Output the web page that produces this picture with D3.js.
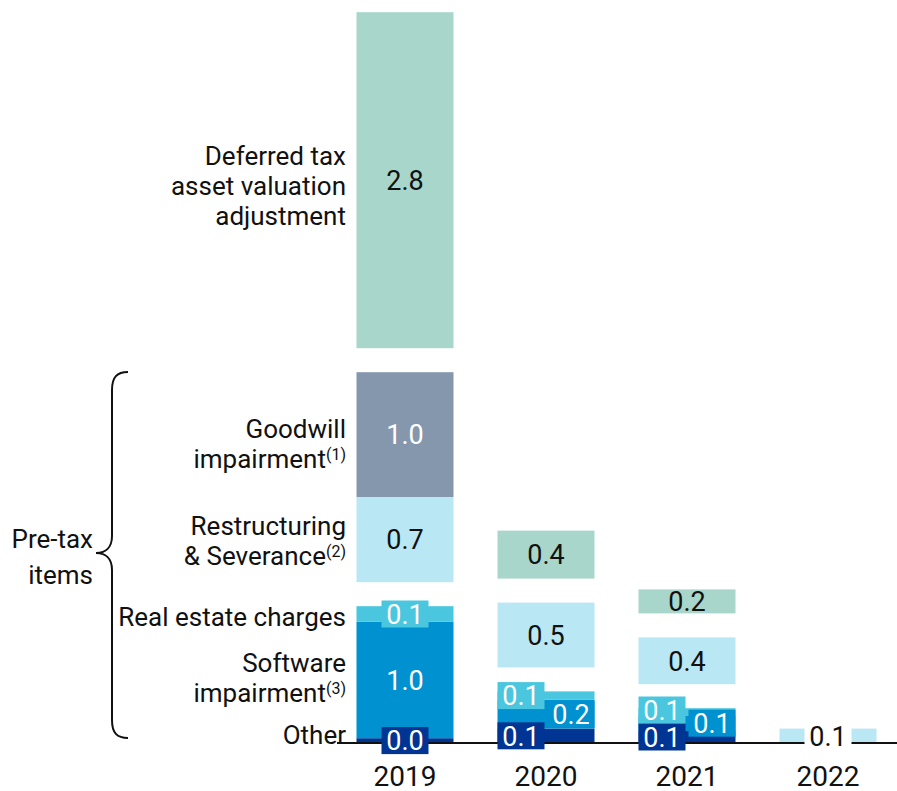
<!DOCTYPE html>
<html>
<head>
<meta charset="utf-8">
<script src="https://cdn.jsdelivr.net/npm/d3@7"></script>
<style>
  body { margin: 0; background: #fff; }
  svg text { font-family: Roboto, "Noto Sans", sans-serif; fill: #111; }
</style>
</head>
<body>
<div><svg width="897" height="791"></svg></div>
<script>
// values (rounded labels shown with 1 decimal)
let years = ["2019", "2020", "2021", "2022"];
let seriesKeys = ["other", "software", "realEstate", "restructuring", "goodwill", "deferredTax"];
let other = [0.04, 0.12, 0.10, 0];
let software = [0.97, 0.24, 0.13, 0];
let realEstate = [0.13, 0.07, 0.06, 0];
let restructuring = [0.71, 0.54, 0.39, 0.12];
let goodwill = [1.04, 0, 0, 0];
let deferredTax = [2.8, 0.4, 0.2, 0];
// groups get a gap between them: pre-tax (other/software/real estate), pre-tax (restructuring/goodwill), tax
let groups = [0, 0, 0, 1, 1, 2];
let categoryLabels = [
    [["Other"]],
    [["Software"], ["impairment", "(3)"]],
    [["Real estate charges"]],
    [["Restructuring"], ["& Severance", "(2)"]],
    [["Goodwill"], ["impairment", "(1)"]],
    [["Deferred tax"], ["asset valuation"], ["adjustment"]]
];

let values = { other: other, software: software, realEstate: realEstate,
    restructuring: restructuring, goodwill: goodwill, deferredTax: deferredTax };
let colors = { other: "#003594", software: "#0091d0", realEstate: "#4ac6df",
    restructuring: "#b9e7f3", goodwill: "#8497ad", deferredTax: "#a8d6cb" };
let darkSeries = { other: true, software: true, goodwill: true, realEstate: true };

let baseline = 743, gap = 24;
let svg = d3.select("svg");

let xdim = d3.scaleBand().domain(years).range([334.5, 898.5])
    .paddingInner(0.312).paddingOuter(0.156);
let ydim = d3.scaleLinear().domain([0, 6]).range([baseline, baseline - 720]);
let unit = function(v) { return ydim(0) - ydim(v); };

// build stacked segments with gaps between groups
let segments = [];
years.forEach(function(yr, i) {
    let top = baseline;
    let lastGroup = null;
    seriesKeys.forEach(function(k, j) {
        let v = values[k][i];
        if (v <= 0) return;
        if (lastGroup !== null && groups[j] !== lastGroup) top -= gap;
        let h = unit(v);
        segments.push({ year: yr, key: k, value: v, y: top - h, h: h });
        top -= h;
        lastGroup = groups[j];
    });
});

svg.selectAll(".bar").data(segments).enter().append("rect").attr("class", "bar")
    .attr("x", function(d) { return xdim(d.year); })
    .attr("width", xdim.bandwidth())
    .attr("y", function(d) { return d.y; })
    .attr("height", function(d) { return d.h; })
    .style("fill", function(d) { return colors[d.key]; });

// baseline
svg.append("line")
    .attr("x1", 337).attr("x2", 897)
    .attr("y1", baseline).attr("y2", baseline)
    .style("stroke", "#111").style("stroke-width", 2);

// value labels
let boxW = 47, boxH = 27, valueSize = "27px";
let isSmall = function(d) { return darkSeries[d.key] ? d.h < 40 : d.h < 20; };
years.forEach(function(yr) {
    let segs = segments.filter(function(d) { return d.year == yr; });
    let smallCount = segs.filter(isSmall).length;
    let lastTop = { l: Infinity, r: Infinity, c: Infinity };
    segs.forEach(function(d) {
        let bx = xdim(yr), bw = xdim.bandwidth();
        let cy = d.y + d.h / 2;
        let label = d.value.toFixed(1);
        if (!isSmall(d)) {
            svg.append("text")
                .attr("x", bx + bw / 2).attr("y", cy).attr("dy", "0.36em")
                .style("text-anchor", "middle").style("font-size", valueSize)
                .style("fill", (darkSeries[d.key] ? "#fff" : "#111"))
                .text(label);
            return;
        }
        let col = "c", cx = bx + bw / 2;
        if (smallCount >= 3) {
            col = d.key == "software" ? "r" : "l";
            cx = col == "r" ? bx + bw - boxW / 2 : bx + boxW / 2;
        }
        // push a box up if it would sit on the one below it
        if (cy + boxH / 2 > lastTop[col]) cy = lastTop[col] - boxH / 2;
        lastTop[col] = cy - boxH / 2;
        let light = !darkSeries[d.key];
        svg.append("rect")
            .attr("x", cx - boxW / 2).attr("y", cy - boxH / 2)
            .attr("width", boxW).attr("height", boxH)
            .style("fill", light ? "#fff" : colors[d.key]);
        svg.append("text")
            .attr("x", cx).attr("y", cy).attr("dy", "0.36em")
            .style("text-anchor", "middle").style("font-size", valueSize)
            .style("fill", light ? "#111" : "#fff")
            .text(label);
    });
});

// year axis labels
svg.selectAll(".year").data(years).enter().append("text").attr("class", "year")
    .attr("x", function(d) { return xdim(d) + xdim.bandwidth() / 2; })
    .attr("y", 776).attr("dy", "0.36em")
    .style("text-anchor", "middle").style("font-size", "28px")
    .text(function(d) { return d; });

// category labels next to the 2019 bar
let labelShift = { other: -6, software: -2, realEstate: 3, restructuring: 1, goodwill: 9, deferredTax: 5 };
let lineH = 30;
segments.filter(function(d) { return d.year == "2019"; }).forEach(function(d) {
    let lines = categoryLabels[seriesKeys.indexOf(d.key)];
    let cy = d.y + d.h / 2 + labelShift[d.key] - (lines.length - 1) * lineH / 2;
    lines.forEach(function(ln, i) {
        let t = svg.append("text")
            .attr("x", 346).attr("y", cy + i * lineH).attr("dy", "0.36em")
            .style("text-anchor", "end").style("font-size", "26px");
        t.append("tspan").text(ln[0]);
        if (ln[1]) {
            t.append("tspan").attr("dy", "-8").style("font-size", "16px").text(ln[1]);
        }
    });
});

// brace for the pre-tax items
svg.append("path")
    .attr("d", "M128,372 C117,372 112,377 112,390 L112,536 C112,548 105,553 96,553 C105,553 112,558 112,570 L112,720 C112,733 117,738 128,738")
    .style("fill", "none").style("stroke", "#111").style("stroke-width", 2);

svg.selectAll(".brace-label").data(["Pre-tax", "items"]).enter().append("text")
    .attr("x", 93).attr("y", function(d, i) { return 539 + i * 36; }).attr("dy", "0.36em")
    .style("text-anchor", "end").style("font-size", "26px")
    .text(function(d) { return d; });
</script>
</body>
</html>
